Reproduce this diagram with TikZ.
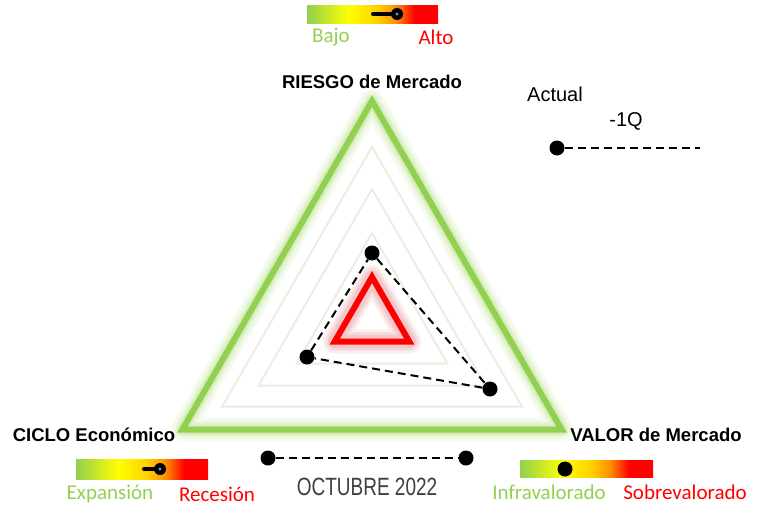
\documentclass[tikz,border=0pt]{standalone}
\usepackage{fontspec}
\setmainfont{Liberation Sans}
\newfontfamily\calib{Carlito}
\usetikzlibrary{calc}
\definecolor{bgreen}{HTML}{92D050}
\definecolor{bred}{HTML}{FF0000}
\definecolor{byellow}{HTML}{FFFF00}
\definecolor{bgold}{HTML}{FFD000}
\definecolor{borange}{HTML}{FF8C00}
\definecolor{gridc}{HTML}{EEECE1}
\definecolor{glowred}{HTML}{E08080}
\definecolor{dotblue}{HTML}{5B9BD5}
\definecolor{octc}{HTML}{404040}
\pgfdeclarehorizontalshading{riskbar}{100bp}{color(0bp)=(bgreen); color(25bp)=(bgreen); color(41bp)=(byellow); color(52bp)=(bgold); color(59bp)=(borange); color(66bp)=(bred); color(100bp)=(bred)}
\newcommand\mytri[1]{(372,{320-#1}) -- ({372+0.866*#1},{320+0.5*#1}) -- ({372-0.866*#1},{320+0.5*#1}) -- cycle}
\tikzset{
  dotn/.style={circle, fill=black, inner sep=0pt, minimum size=15pt},
  smalldot/.style={circle, fill=black, inner sep=0pt, minimum size=12pt},
  conn/.style={line width=2pt, dash pattern=on 8pt off 5pt},
  lab/.style={font=\bfseries\fontsize{18.5}{20}\selectfont},
  leg/.style={font=\fontsize{20}{22}\selectfont},
  gridline/.style={draw=gridc, line width=2pt, line join=miter},
  barbox/.style={shading=riskbar},
  glab/.style={font=\calib\fontsize{21}{23}\selectfont, text=bgreen},
  rlab/.style={font=\calib\fontsize{21}{23}\selectfont, text=bred},
}
\begin{document}
\begin{tikzpicture}[x=1pt,y=-1pt]
\useasboundingbox (0,0) rectangle (762,506);
% green glow
\foreach \w/\o in {24/0.07,19/0.09,14/0.12,10/0.18}{
  \draw[bgreen, line width=\w pt, opacity=\o, line join=round] \mytri{219};
}
% grid triangles
\draw[gridline] \mytri{173};
\draw[gridline] \mytri{131};
\draw[gridline] \mytri{87};
% outer green
\draw[bgreen, line width=6pt, line join=miter] \mytri{219};
% red glow
\foreach \w/\o in {24/0.12,19/0.16,14/0.22}{
  \draw[glowred, line width=\w pt, opacity=\o, line join=round] \mytri{43};
}
\draw[bred, line width=6pt, line join=miter] \mytri{43};
% data dots
\node[dotn] (pr) at (372,253) {};
\node[dotn] (pc) at (307,357) {};
\node[dotn] (pv) at (490,389) {};
\draw[conn] (pr) -- (pv) -- (pc) -- (pr);
% axis labels
\node[lab] (riesgo) at (372,82) {RIESGO de Mercado};
\node[lab] (ciclo) at (94,435) {CICLO Económico};
\node[lab] (valor) at (656,435) {VALOR de Mercado};
% legend
\node[leg] (actual) at (555,94) {Actual};
\node[leg] (q1) at (626,121) {-1Q};
\node[dotn] (ld) at (557,148) {};
\coordinate (le) at (700,148);
\draw[conn] (ld) -- (le);
% bottom date
\node[dotn] (d1) at (268,458) {};
\node[dotn] (d2) at (466,458) {};
\draw[conn] (d1) -- (d2);
\node[font=\fontsize{25}{27}\selectfont, text=octc] (oct) at (367,487) {\scalebox{0.76}[1]{OCTUBRE 2022}};
% top bar
\shade[barbox] (307,5) rectangle (438,23);
\node[smalldot] (tm) at (397,14) {};
\coordinate (tl) at (373,14);
\draw[line width=4pt, line cap=round] (tl) -- (tm);
\fill[dotblue] (tm) circle (1.6);
\node[glab] (bajo) at (331,37) {Bajo};
\node[rlab] (alto) at (436,37) {Alto};
% bottom-left bar
\shade[barbox] (76,459) rectangle (208,479);
\node[smalldot] (cm) at (160,469) {};
\coordinate (cl) at (144,469);
\draw[line width=4pt, line cap=round] (cl) -- (cm);
\fill[dotblue] (cm) circle (1.6);
\node[glab] (exp) at (110,494) {Expansión};
\node[rlab] (rec) at (217,494) {Recesión};
% bottom-right bar
\shade[barbox] (520,460) rectangle (653,477);
\node[dotn] (vm) at (565,469) {};
\node[glab] (infra) at (549,492) {Infravalorado};
\node[rlab] (sobre) at (685,492) {Sobrevalorado};
\end{tikzpicture}
\end{document}
